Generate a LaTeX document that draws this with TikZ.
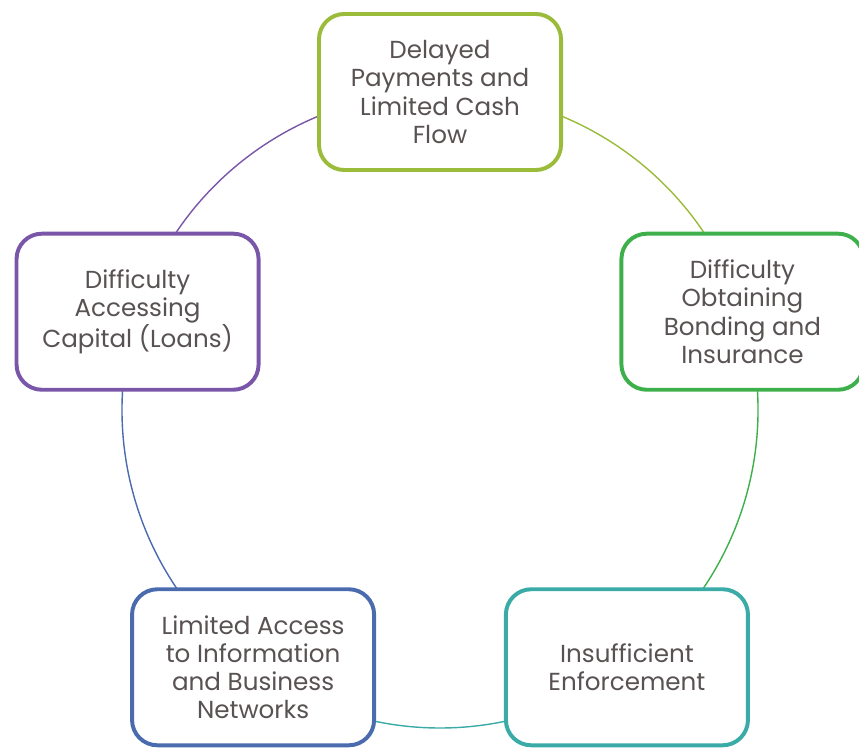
\documentclass[tikz,border=0pt]{standalone}
\usepackage{fontspec}
\setmainfont{Poppins}
\usetikzlibrary{calc,backgrounds}

\definecolor{payolive}{HTML}{9BBB3B}
\definecolor{bondgreen}{HTML}{3DB04B}
\definecolor{enfteal}{HTML}{3AABA6}
\definecolor{netblue}{HTML}{4A6BAE}
\definecolor{cappurple}{HTML}{7A56A8}
\definecolor{txtgray}{HTML}{595252}

\tikzset{
	issuebox/.style={draw=#1, line width=2.8pt, fill=white, rounded corners=18pt,
		minimum width=6.05cm, minimum height=3.9cm, align=center, text=txtgray,
		font=\fontsize{17.5}{20}\selectfont},
	ringline/.style={draw=#1, line width=1pt}
}

\begin{document}
\begin{tikzpicture}[x=0.025cm, y=0.025cm]
		\useasboundingbox (0,0) rectangle (859,749);
		\coordinate (c) at (440,339);

		\node [issuebox=payolive] (pay) at ($(c)+(90:318)$) {Delayed\\Payments and\\Limited Cash\\Flow};
		\node [issuebox=bondgreen] (bond) at ($(c)+(18:318)$) {Difficulty\\Obtaining\\Bonding and\\Insurance};
		\node [issuebox=enfteal] (enforce) at ($(c)+(-54:318)$) {Insufficient\\Enforcement};
		\node [issuebox=netblue] (network) at ($(c)+(234:318)$) {Limited Access\\to Information\\and Business\\Networks};
		\node [issuebox=cappurple] (capital) at ($(c)+(162:318)$) {Difficulty\\Accessing\\Capital (Loans)};

		\begin{pgfonlayer}{background}
			\draw [ringline=payolive] (pay.center) arc[start angle=90, end angle=18, radius=318];
			\draw [ringline=bondgreen] (bond.center) arc[start angle=18, end angle=-54, radius=318];
			\draw [ringline=enfteal] (enforce.center) arc[start angle=-54, end angle=-126, radius=318];
			\draw [ringline=netblue] (network.center) arc[start angle=234, end angle=162, radius=318];
			\draw [ringline=cappurple] (capital.center) arc[start angle=162, end angle=90, radius=318];
		\end{pgfonlayer}
	\end{tikzpicture}
\end{document}
